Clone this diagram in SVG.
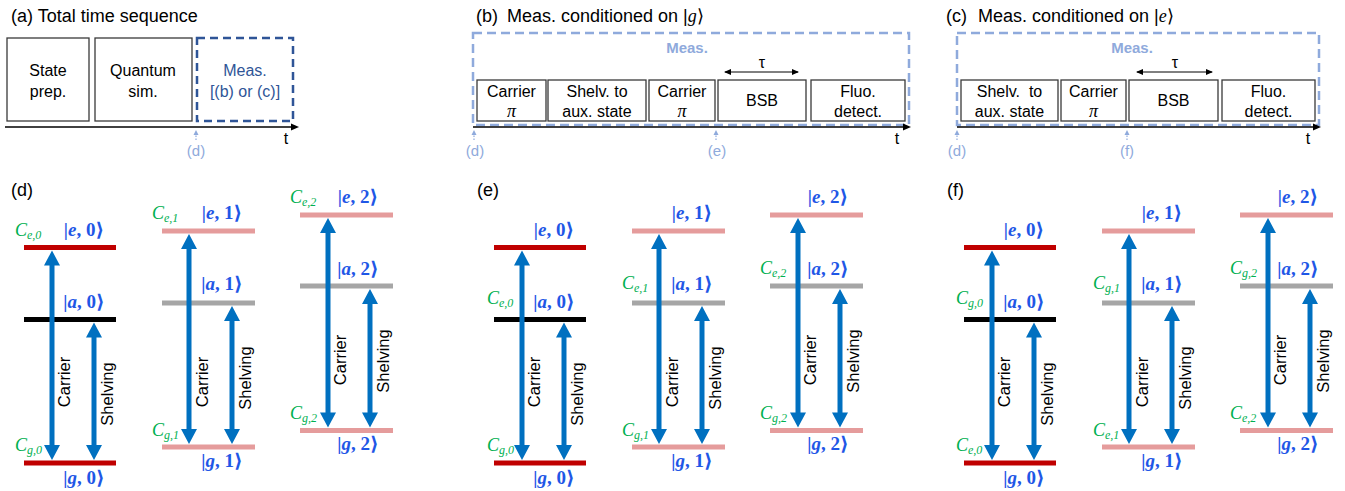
<svg xmlns="http://www.w3.org/2000/svg" width="1345" height="491" viewBox="0 0 1345 491">
<defs>
<style>
.ttl{font-family:"Liberation Sans",Arial,sans-serif;font-size:18px;fill:#000}
.mi{font-family:"Liberation Serif","DejaVu Serif",serif;font-style:italic}
.bx{fill:#fff;stroke:#3a3a3a;stroke-width:1.3}
.bt{font-family:"Liberation Sans",Arial,sans-serif;font-size:16px;text-anchor:middle;fill:#000}
.pi{font-family:"Liberation Serif","DejaVu Serif",serif;font-style:italic;font-size:18px}
.ax{stroke:#000;stroke-width:1.3;fill:none;marker-end:url(#ah)}
.tau{stroke:#000;stroke-width:1;fill:none;marker-start:url(#th);marker-end:url(#th)}
.ref{font-family:"Liberation Sans",Arial,sans-serif;font-size:15px;fill:#8FAADC;text-anchor:middle}
.dot{stroke:#8FAADC;stroke-width:1.2;stroke-dasharray:1.5 1.5;fill:none;marker-end:url(#dh)}
.meas{font-family:"Liberation Sans",Arial,sans-serif;font-size:15px;font-weight:bold;fill:#8FAADC;text-anchor:middle}
.lv{stroke-width:5}
.red{stroke:#C00000}
.blk{stroke:#000}
.pink{stroke:#E59C9C}
.gray{stroke:#A6A6A6}
.arr{stroke:#0070C0;stroke-width:5;marker-start:url(#bh);marker-end:url(#bh)}
.lab{font-family:"Liberation Serif","DejaVu Serif",serif;font-size:19px;font-weight:bold;fill:#1F57E6;text-anchor:middle}
.cl{font-family:"Liberation Serif","DejaVu Serif",serif;font-style:italic;font-size:18px;fill:#00B050}
.cs{font-size:12px}
.rl{font-family:"Liberation Sans",Arial,sans-serif;font-size:16.5px;text-anchor:middle;fill:#000}
.pl{font-family:"Liberation Sans",Arial,sans-serif;font-size:18px;fill:#000}
</style>
<marker id="bh" markerUnits="userSpaceOnUse" markerWidth="17" markerHeight="17" refX="0.5" refY="8" orient="auto-start-reverse" overflow="visible"><path d="M0,0 L15,8 L0,16 Z" fill="#0070C0"/></marker>
<marker id="ah" markerUnits="userSpaceOnUse" markerWidth="9" markerHeight="8" refX="1" refY="3.5" orient="auto" overflow="visible"><path d="M0,0 L8,3.5 L0,7 Z" fill="#000"/></marker>
<marker id="th" markerUnits="userSpaceOnUse" markerWidth="8" markerHeight="7" refX="6" refY="3" orient="auto-start-reverse" overflow="visible"><path d="M0,0 L7,3 L0,6 Z" fill="#000"/></marker>
<marker id="dh" markerUnits="userSpaceOnUse" markerWidth="6" markerHeight="6" refX="1" refY="2.5" orient="auto" overflow="visible"><path d="M0,0 L5,2.5 L0,5 Z" fill="#8FAADC"/></marker>
</defs>
<rect width="1345" height="491" fill="#fff"/>

<!-- Panel (a) -->
<g id="panel-a">
<text class="ttl" x="11" y="22">(a) Total time sequence</text>
<g id="a-state"><rect class="bx" x="7" y="38" width="82" height="83"/><text class="bt" x="48" y="76">State</text><text class="bt" x="48" y="97">prep.</text></g>
<g id="a-sim"><rect class="bx" x="95" y="38" width="97" height="83"/><text class="bt" x="143" y="76">Quantum</text><text class="bt" x="143" y="97">sim.</text></g>
<g id="a-meas"><rect x="197" y="38" width="96" height="83" fill="none" stroke="#2F5597" stroke-width="2.5" stroke-dasharray="8 5"/><text class="bt" x="245" y="76" style="fill:#2F5597">Meas.</text><text class="bt" x="245" y="97" style="fill:#2F5597">[(b) or (c)]</text></g>
</g>

<!-- Panel (b) -->
<g id="panel-b">
<text class="ttl" x="476" y="22">(b)<tspan x="507">Meas. conditioned on |</tspan><tspan class="mi">g</tspan>⟩</text>
<rect x="473" y="33" width="436" height="92" fill="none" stroke="#8FAADC" stroke-width="2.5" stroke-dasharray="9 5"/>
<text class="meas" x="687" y="53">Meas.</text>
<g id="b-carrier1"><rect class="bx" x="477" y="80" width="69" height="41"/><text class="bt" x="511.5" y="97">Carrier</text><text class="pi" x="511.5" y="117" text-anchor="middle">π</text></g>
<g id="b-shelv"><rect class="bx" x="548" y="80" width="98" height="41"/><text class="bt" x="597" y="97">Shelv. to</text><text class="bt" x="597" y="117">aux. state</text></g>
<g id="b-carrier2"><rect class="bx" x="649" y="80" width="66" height="41"/><text class="bt" x="682" y="97">Carrier</text><text class="pi" x="682" y="117" text-anchor="middle">π</text></g>
<g id="b-bsb"><rect class="bx" x="718" y="80" width="88" height="41"/><text class="bt" x="762" y="106">BSB</text></g>
<g id="b-fluo"><rect class="bx" x="811" y="80" width="94" height="41"/><text class="bt" x="858" y="97">Fluo.</text><text class="bt" x="858" y="117">detect.</text></g>
<text class="bt" x="762" y="68">τ</text>
</g>

<!-- Panel (c) -->
<g id="panel-c">
<text class="ttl" x="946" y="22">(c)<tspan x="978">Meas. conditioned on |</tspan><tspan class="mi">e</tspan>⟩</text>
<rect x="957" y="33" width="362" height="92" fill="none" stroke="#8FAADC" stroke-width="2.5" stroke-dasharray="9 5"/>
<text class="meas" x="1132" y="53">Meas.</text>
<g id="c-shelv"><rect class="bx" x="961" y="80" width="97" height="41"/><text class="bt" x="1009.5" y="97">Shelv.&#160; to</text><text class="bt" x="1009.5" y="117">aux. state</text></g>
<g id="c-carrier"><rect class="bx" x="1061" y="80" width="65" height="41"/><text class="bt" x="1093.5" y="97">Carrier</text><text class="pi" x="1093.5" y="117" text-anchor="middle">π</text></g>
<g id="c-bsb"><rect class="bx" x="1129" y="80" width="89" height="41"/><text class="bt" x="1173.5" y="106">BSB</text></g>
<g id="c-fluo"><rect class="bx" x="1222" y="80" width="93" height="41"/><text class="bt" x="1268.5" y="97">Fluo.</text><text class="bt" x="1268.5" y="117">detect.</text></g>
<text class="bt" x="1175" y="68">τ</text>
</g>

<!-- time axes and markers -->
<g id="connectors">
<line class="ax" x1="5" y1="127" x2="292" y2="127"/>
<line class="ax" x1="473" y1="127" x2="904" y2="127"/>
<line class="ax" x1="957" y1="127" x2="1314" y2="127"/>
<line class="tau" x1="725" y1="72" x2="798" y2="72"/>
<line class="tau" x1="1137" y1="72" x2="1212" y2="72"/>
<line class="dot" x1="196" y1="140" x2="196" y2="134"/>
<line class="dot" x1="474" y1="140" x2="474" y2="134"/>
<line class="dot" x1="716" y1="140" x2="716" y2="134"/>
<line class="dot" x1="957" y1="140" x2="957" y2="134"/>
<line class="dot" x1="1127" y1="140" x2="1127" y2="134"/>
</g>
<text class="bt" x="286" y="144">t</text>
<text class="bt" x="897" y="144">t</text>
<text class="bt" x="1308" y="144">t</text>
<text class="ref" x="196" y="156">(d)</text>
<text class="ref" x="475" y="156">(d)</text>
<text class="ref" x="717" y="156">(e)</text>
<text class="ref" x="957" y="156">(d)</text>
<text class="ref" x="1127" y="156">(f)</text>

<!-- Panel labels for level diagrams -->
<text class="pl" x="11" y="196">(d)</text>
<text class="pl" x="477" y="196">(e)</text>
<text class="pl" x="947" y="196">(f)</text>

<!-- ===== Panel (d) ===== -->
<g id="d-n0">
<line class="lv red" x1="24" y1="247.5" x2="116" y2="247.5"/>
<line class="lv blk" x1="24" y1="319.5" x2="116" y2="319.5"/>
<line class="lv red" x1="24" y1="463" x2="116" y2="463"/>
<line class="arr" x1="52" y1="265" x2="52" y2="445.5"/>
<line class="arr" x1="94" y1="337" x2="94" y2="445.5"/>
<text class="rl" transform="translate(69.5,382) rotate(-90)">Carrier</text>
<text class="rl" transform="translate(113,394) rotate(-90)">Shelving</text>
<text class="lab" x="84" y="236">|<tspan font-style="italic">e</tspan>, 0⟩</text>
<text class="lab" x="84" y="308">|<tspan font-style="italic">a</tspan>, 0⟩</text>
<text class="lab" x="84" y="484">|<tspan font-style="italic">g</tspan>, 0⟩</text>
<text class="cl" x="15" y="236">C<tspan class="cs" dy="3">e,0</tspan></text>
<text class="cl" x="15" y="451">C<tspan class="cs" dy="3">g,0</tspan></text>
</g>
<g id="d-n1">
<line class="lv pink" x1="162" y1="231" x2="255" y2="231"/>
<line class="lv gray" x1="162" y1="303" x2="255" y2="303"/>
<line class="lv pink" x1="162" y1="447" x2="255" y2="447"/>
<line class="arr" x1="189" y1="248.5" x2="189" y2="429.5"/>
<line class="arr" x1="232" y1="320.5" x2="232" y2="429.5"/>
<text class="rl" transform="translate(208,382) rotate(-90)">Carrier</text>
<text class="rl" transform="translate(251,378) rotate(-90)">Shelving</text>
<text class="lab" x="222" y="219">|<tspan font-style="italic">e</tspan>, 1⟩</text>
<text class="lab" x="222" y="290">|<tspan font-style="italic">a</tspan>, 1⟩</text>
<text class="lab" x="222" y="467">|<tspan font-style="italic">g</tspan>, 1⟩</text>
<text class="cl" x="152" y="219">C<tspan class="cs" dy="3">e,1</tspan></text>
<text class="cl" x="152" y="436">C<tspan class="cs" dy="3">g,1</tspan></text>
</g>
<g id="d-n2">
<line class="lv pink" x1="300" y1="215" x2="393" y2="215"/>
<line class="lv gray" x1="300" y1="286" x2="393" y2="286"/>
<line class="lv pink" x1="300" y1="430.5" x2="393" y2="430.5"/>
<line class="arr" x1="328" y1="232.5" x2="328" y2="413"/>
<line class="arr" x1="370" y1="303.5" x2="370" y2="413"/>
<text class="rl" transform="translate(346,360) rotate(-90)">Carrier</text>
<text class="rl" transform="translate(389,361) rotate(-90)">Shelving</text>
<text class="lab" x="358" y="203">|<tspan font-style="italic">e</tspan>, 2⟩</text>
<text class="lab" x="358" y="275">|<tspan font-style="italic">a</tspan>, 2⟩</text>
<text class="lab" x="358" y="450">|<tspan font-style="italic">g</tspan>, 2⟩</text>
<text class="cl" x="290" y="203">C<tspan class="cs" dy="3">e,2</tspan></text>
<text class="cl" x="290" y="419">C<tspan class="cs" dy="3">g,2</tspan></text>
</g>

<!-- ===== Panel (e) ===== -->
<g id="e-n0" transform="translate(470,0)">
<line class="lv red" x1="24" y1="247.5" x2="116" y2="247.5"/>
<line class="lv blk" x1="24" y1="319.5" x2="116" y2="319.5"/>
<line class="lv red" x1="24" y1="463" x2="116" y2="463"/>
<line class="arr" x1="52" y1="265" x2="52" y2="445.5"/>
<line class="arr" x1="94" y1="337" x2="94" y2="445.5"/>
<text class="rl" transform="translate(69.5,382) rotate(-90)">Carrier</text>
<text class="rl" transform="translate(113,394) rotate(-90)">Shelving</text>
<text class="lab" x="84" y="236">|<tspan font-style="italic">e</tspan>, 0⟩</text>
<text class="lab" x="84" y="308">|<tspan font-style="italic">a</tspan>, 0⟩</text>
<text class="lab" x="84" y="484">|<tspan font-style="italic">g</tspan>, 0⟩</text>
<text class="cl" x="17" y="304">C<tspan class="cs" dy="3">e,0</tspan></text>
<text class="cl" x="17" y="451">C<tspan class="cs" dy="3">g,0</tspan></text>
</g>
<g id="e-n1" transform="translate(470,0)">
<line class="lv pink" x1="162" y1="231" x2="255" y2="231"/>
<line class="lv gray" x1="162" y1="303" x2="255" y2="303"/>
<line class="lv pink" x1="162" y1="447" x2="255" y2="447"/>
<line class="arr" x1="189" y1="248.5" x2="189" y2="429.5"/>
<line class="arr" x1="232" y1="320.5" x2="232" y2="429.5"/>
<text class="rl" transform="translate(208,382) rotate(-90)">Carrier</text>
<text class="rl" transform="translate(251,378) rotate(-90)">Shelving</text>
<text class="lab" x="222" y="219">|<tspan font-style="italic">e</tspan>, 1⟩</text>
<text class="lab" x="222" y="290">|<tspan font-style="italic">a</tspan>, 1⟩</text>
<text class="lab" x="222" y="467">|<tspan font-style="italic">g</tspan>, 1⟩</text>
<text class="cl" x="152" y="289">C<tspan class="cs" dy="3">e,1</tspan></text>
<text class="cl" x="152" y="436">C<tspan class="cs" dy="3">g,1</tspan></text>
</g>
<g id="e-n2" transform="translate(470,0)">
<line class="lv pink" x1="300" y1="215" x2="393" y2="215"/>
<line class="lv gray" x1="300" y1="286" x2="393" y2="286"/>
<line class="lv pink" x1="300" y1="430.5" x2="393" y2="430.5"/>
<line class="arr" x1="328" y1="232.5" x2="328" y2="413"/>
<line class="arr" x1="370" y1="303.5" x2="370" y2="413"/>
<text class="rl" transform="translate(346,360) rotate(-90)">Carrier</text>
<text class="rl" transform="translate(389,361) rotate(-90)">Shelving</text>
<text class="lab" x="358" y="203">|<tspan font-style="italic">e</tspan>, 2⟩</text>
<text class="lab" x="358" y="275">|<tspan font-style="italic">a</tspan>, 2⟩</text>
<text class="lab" x="358" y="450">|<tspan font-style="italic">g</tspan>, 2⟩</text>
<text class="cl" x="290" y="274">C<tspan class="cs" dy="3">e,2</tspan></text>
<text class="cl" x="290" y="419">C<tspan class="cs" dy="3">g,2</tspan></text>
</g>

<!-- ===== Panel (f) ===== -->
<g id="f-n0" transform="translate(940,0)">
<line class="lv red" x1="24" y1="247.5" x2="116" y2="247.5"/>
<line class="lv blk" x1="24" y1="319.5" x2="116" y2="319.5"/>
<line class="lv red" x1="24" y1="463" x2="116" y2="463"/>
<line class="arr" x1="52" y1="265" x2="52" y2="445.5"/>
<line class="arr" x1="94" y1="337" x2="94" y2="445.5"/>
<text class="rl" transform="translate(69.5,382) rotate(-90)">Carrier</text>
<text class="rl" transform="translate(113,394) rotate(-90)">Shelving</text>
<text class="lab" x="84" y="236">|<tspan font-style="italic">e</tspan>, 0⟩</text>
<text class="lab" x="84" y="308">|<tspan font-style="italic">a</tspan>, 0⟩</text>
<text class="lab" x="84" y="484">|<tspan font-style="italic">g</tspan>, 0⟩</text>
<text class="cl" x="16" y="304">C<tspan class="cs" dy="3">g,0</tspan></text>
<text class="cl" x="16" y="451">C<tspan class="cs" dy="3">e,0</tspan></text>
</g>
<g id="f-n1" transform="translate(940,0)">
<line class="lv pink" x1="162" y1="231" x2="255" y2="231"/>
<line class="lv gray" x1="162" y1="303" x2="255" y2="303"/>
<line class="lv pink" x1="162" y1="447" x2="255" y2="447"/>
<line class="arr" x1="189" y1="248.5" x2="189" y2="429.5"/>
<line class="arr" x1="232" y1="320.5" x2="232" y2="429.5"/>
<text class="rl" transform="translate(208,382) rotate(-90)">Carrier</text>
<text class="rl" transform="translate(251,378) rotate(-90)">Shelving</text>
<text class="lab" x="222" y="219">|<tspan font-style="italic">e</tspan>, 1⟩</text>
<text class="lab" x="222" y="290">|<tspan font-style="italic">a</tspan>, 1⟩</text>
<text class="lab" x="222" y="467">|<tspan font-style="italic">g</tspan>, 1⟩</text>
<text class="cl" x="153" y="289">C<tspan class="cs" dy="3">g,1</tspan></text>
<text class="cl" x="153" y="436">C<tspan class="cs" dy="3">e,1</tspan></text>
</g>
<g id="f-n2" transform="translate(940,0)">
<line class="lv pink" x1="300" y1="215" x2="393" y2="215"/>
<line class="lv gray" x1="300" y1="286" x2="393" y2="286"/>
<line class="lv pink" x1="300" y1="430.5" x2="393" y2="430.5"/>
<line class="arr" x1="328" y1="232.5" x2="328" y2="413"/>
<line class="arr" x1="370" y1="303.5" x2="370" y2="413"/>
<text class="rl" transform="translate(346,360) rotate(-90)">Carrier</text>
<text class="rl" transform="translate(389,361) rotate(-90)">Shelving</text>
<text class="lab" x="358" y="203">|<tspan font-style="italic">e</tspan>, 2⟩</text>
<text class="lab" x="358" y="275">|<tspan font-style="italic">a</tspan>, 2⟩</text>
<text class="lab" x="358" y="450">|<tspan font-style="italic">g</tspan>, 2⟩</text>
<text class="cl" x="290" y="274">C<tspan class="cs" dy="3">g,2</tspan></text>
<text class="cl" x="290" y="419">C<tspan class="cs" dy="3">e,2</tspan></text>
</g>
</svg>
